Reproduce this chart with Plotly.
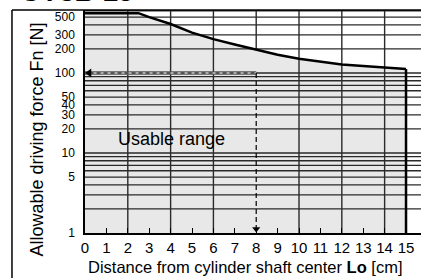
import plotly.graph_objects as go

# Data
lo = [0, 2.5, 3, 4, 5, 6, 7, 8, 9, 10, 11, 12, 13, 14, 15]
fn = [560, 560, 500, 410, 320, 265, 227, 194, 169, 151, 138, 128, 122, 116, 112]

x_ticks = list(range(0, 16))
x_grid = [2, 4, 6, 10, 12, 14]
y_ticks = [1, 2, 3, 4, 5, 6, 7, 8, 9, 10, 20, 30, 40, 50, 60, 70, 80, 90, 100, 200, 300, 400, 500, 600]
y_labels = ["1", "", "", "", "5", "", "", "", "", "10", "20", "30", "40", "50", "", "", "", "", "100",
            "200", "300", "", "500", ""]

example_lo = 8
example_fn = 100
y_min = 1
y_top = 613

FONT = "Liberation Sans, Arial, sans-serif"
NARROW = "Liberation Sans Narrow, Arial Narrow, Liberation Sans, sans-serif"
GRID = "#2a2a2a"

fig = go.Figure()

# usable range fill (translucent so gridlines show through)
fig.add_trace(go.Scatter(
    x=lo + [lo[-1], lo[0]], y=fn + [y_min, y_min], fill="toself",
    fillcolor="rgba(0,0,0,0.09)", line=dict(width=0), mode="lines",
    hoverinfo="skip", showlegend=False))

# vertical gridlines (x=8 only above the curve)
gx, gy = [], []
for v in x_grid:
    gx += [v, v, None]
    gy += [y_min, y_top, None]
gx += [example_lo, example_lo, None]
gy += [fn[lo.index(example_lo)], y_top, None]
fig.add_trace(go.Scatter(x=gx, y=gy, mode="lines", line=dict(color=GRID, width=1.4),
                         hoverinfo="skip", showlegend=False))

# horizontal gridlines
hx, hy = [], []
for v in y_ticks[1:]:
    hx += [0, 16, None]
    hy += [v, v, None]
fig.add_trace(go.Scatter(x=hx, y=hy, mode="lines", line=dict(color=GRID, width=1.3),
                         hoverinfo="skip", showlegend=False))

# example: dashed horizontal at 100 from 8 to 0
fig.add_trace(go.Scatter(x=[0, example_lo], y=[example_fn, example_fn], mode="lines",
                         line=dict(color="#555555", width=3.5), hoverinfo="skip", showlegend=False))
fig.add_trace(go.Scatter(x=[0.4, example_lo], y=[example_fn, example_fn], mode="lines",
                         line=dict(color="white", width=1.2, dash="3px,4px"),
                         hoverinfo="skip", showlegend=False))
fig.add_trace(go.Scatter(x=[0.2], y=[example_fn], mode="markers",
                         marker=dict(symbol="triangle-left", size=8, color="black"),
                         hoverinfo="skip", showlegend=False))
# dashed vertical at 8 from 100 down
fig.add_trace(go.Scatter(x=[example_lo, example_lo], y=[example_fn, 1.16], mode="lines",
                         line=dict(color="black", width=1.2, dash="5px,3px"),
                         hoverinfo="skip", showlegend=False))
fig.add_trace(go.Scatter(x=[example_lo], y=[1.12], mode="markers",
                         marker=dict(symbol="triangle-down", size=7, color="black"),
                         hoverinfo="skip", showlegend=False))

# curve and right boundary
fig.add_trace(go.Scatter(x=lo, y=fn, mode="lines", line=dict(color="black", width=2.5),
                         hoverinfo="skip", showlegend=False))
fig.add_trace(go.Scatter(x=[lo[-1], lo[-1]], y=[fn[-1], y_min], mode="lines",
                         line=dict(color="black", width=2.5), hoverinfo="skip", showlegend=False))

fig.add_annotation(x=4.02, y=1.176, xref="x", yref="y", text="Usable range", showarrow=False,
                   xanchor="center", yanchor="middle",
                   font=dict(size=18, color="black", family=FONT))

# axis titles
fig.add_annotation(x=0.479, y=-0.152, xref="paper", yref="paper", xanchor="center", yanchor="middle",
                   text="Distance from cylinder shaft center <b>Lo</b> [cm]", showarrow=False,
                   font=dict(size=16.5, color="black", family=FONT))
fig.add_annotation(x=-0.143, y=0.419, xref="paper", yref="paper", textangle=-90,
                   xanchor="center", yanchor="middle",
                   text="Allowable driving force Fn [N]", showarrow=False,
                   font=dict(size=18, color="black", family=FONT))
# cropped title
fig.add_annotation(x=-0.2, y=1.004, xref="paper", yref="paper", xanchor="left", yanchor="bottom",
                   text="<b>CY3B 15</b>", showarrow=False,
                   font=dict(size=28, color="black", family=FONT))

# outer frame
fig.add_shape(type="line", xref="paper", yref="paper", x0=-0.2173, x1=1.0, y0=1.0, y1=1.0,
              line=dict(color="black", width=1.5))
fig.add_shape(type="line", xref="paper", yref="paper", x0=-0.2173, x1=-0.2173, y0=1.0, y1=-0.25,
              line=dict(color="black", width=1.5))

fig.update_xaxes(range=[0, 15.7], tickvals=x_ticks, ticktext=[str(v) for v in x_ticks],
                 ticks="inside", ticklen=5, tickwidth=1.2, tickcolor="black",
                 showgrid=False, zeroline=False, showline=True, linecolor="black", linewidth=1.5,
                 tickfont=dict(size=15, color="black", family=NARROW))
fig.update_yaxes(type="log", range=[0, 2.7875], tickvals=y_ticks, ticktext=y_labels,
                 ticks="", showgrid=False, zeroline=False, showline=True, linecolor="black",
                 linewidth=1.5, ticklabelstandoff=6,
                 tickfont=dict(size=12, color="black", family=FONT))

fig.update_layout(width=421, height=278, margin=dict(l=85, r=0, t=10, b=45),
                  paper_bgcolor="white", plot_bgcolor="white", showlegend=False)

fig.write_html("out.html", config={"displayModeBar": False},
               post_script="document.body.style.margin='0';document.body.style.padding='0';")
